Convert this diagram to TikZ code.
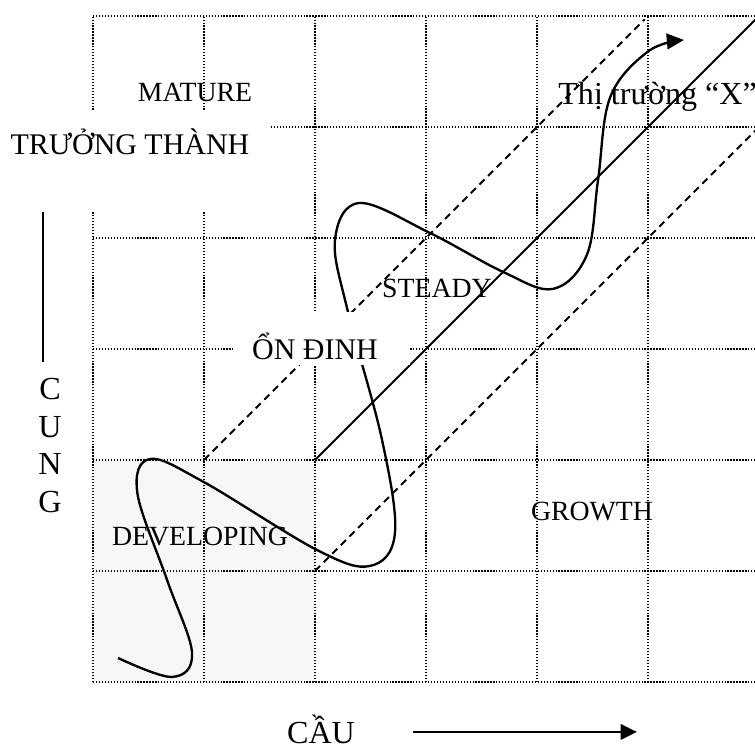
\documentclass[tikz,border=0pt]{standalone}
\usepackage{fontspec}
\setmainfont{Liberation Serif}
\usetikzlibrary{arrows.meta}

\definecolor{devgray}{HTML}{F7F7F7}

\tikzset{
  gridline/.style={line width=1.1pt, dash pattern=on 0.8pt off 1.1pt},
  band/.style={line width=1.2pt, dash pattern=on 4.6pt off 3.2pt},
  curve/.style={line width=1.5pt, -{Triangle[length=11pt,width=10pt]}},
  en/.style={font=\fontsize{17.8}{20}\selectfont, inner sep=0pt},
  vn/.style={font=\fontsize{19.2}{22}\selectfont, inner sep=0pt},
  big/.style={font=\fontsize{20.6}{24.1}\selectfont, inner sep=0pt},
}

\begin{document}
\begin{tikzpicture}[x=2.5cm,y=2.5cm]
\useasboundingbox (-0.838,-0.604) rectangle (5.964,6.144);

\begin{scope}
\clip (-0.838,-0.604) rectangle (5.964,6.144);
\fill[devgray] (0,0) rectangle (2,2);
\foreach \i in {0,...,6} {
  \draw[gridline] (0,\i) -- (6,\i);
  \draw[gridline] (\i,0) -- (\i,6);
}

% market band
\coordinate (b1) at (1,2);
\coordinate (b2) at (4.97,5.97);
\coordinate (b3) at (2,1);
\coordinate (b4) at (6,5);
\coordinate (m1) at (2,2);
\coordinate (m2) at (6,6);
\draw[band] (b1) -- (b2);
\draw[band] (b3) -- (b4);
\draw[line width=1.3pt] (m1) -- (m2);

% path of the market
\draw[curve] plot[smooth, tension=0.6] coordinates {
  (0.225,0.216) (0.712,0.045) (0.892,0.261) (0.667,0.919) (0.40,1.70)
  (0.514,2.009) (1.0,1.80) (2.018,1.189) (2.495,1.045) (2.72,1.34)
  (2.604,2.18) (2.297,3.333) (2.18,3.98) (2.40,4.315) (3.036,4.045)
  (3.694,3.694) (4.144,3.541) (4.45,3.85) (4.55,4.523) (4.66,5.27)
  (5.0,5.68) (5.324,5.784)};
\end{scope}

% labels
\fill[white] (-0.9,4.234) rectangle (1.595,5.153);
\fill[white] (1.261,2.856) rectangle (2.856,3.333);

\node[en] (mature) at (0.919,5.315) {MATURE};
\node[vn] (truongthanh) at (0.333,4.865) {TRƯỞNG THÀNH};
\node[big, anchor=base west] (thitruong) at (4.189,5.198) {Thị trường “X”};
\node[en] (steady) at (3.099,3.541) {STEADY};
\node[vn] (ondinh) at (2.0,3.027) {ỔN ĐINH};
\node[en] (developing) at (0.964,1.306) {DEVELOPING};
\node[en] (growth) at (4.495,1.532) {GROWTH};

% axes
\node[big, anchor=base] (cau) at (2.054,-0.55) {CẦU};
\coordinate (c1) at (2.883,-0.45);
\coordinate (c2) at (4.90,-0.45);
\draw[line width=1.3pt, -{Triangle[length=10.5pt,width=10pt]}] (c1) -- (c2);

\coordinate (s1) at (-0.45,4.234);
\coordinate (s2) at (-0.45,2.883);
\draw[line width=1.3pt] (s1) -- (s2);
\node[big, anchor=north, align=center] (cung) at (-0.387,2.739) {C\\U\\N\\G};
\end{tikzpicture}
\end{document}
